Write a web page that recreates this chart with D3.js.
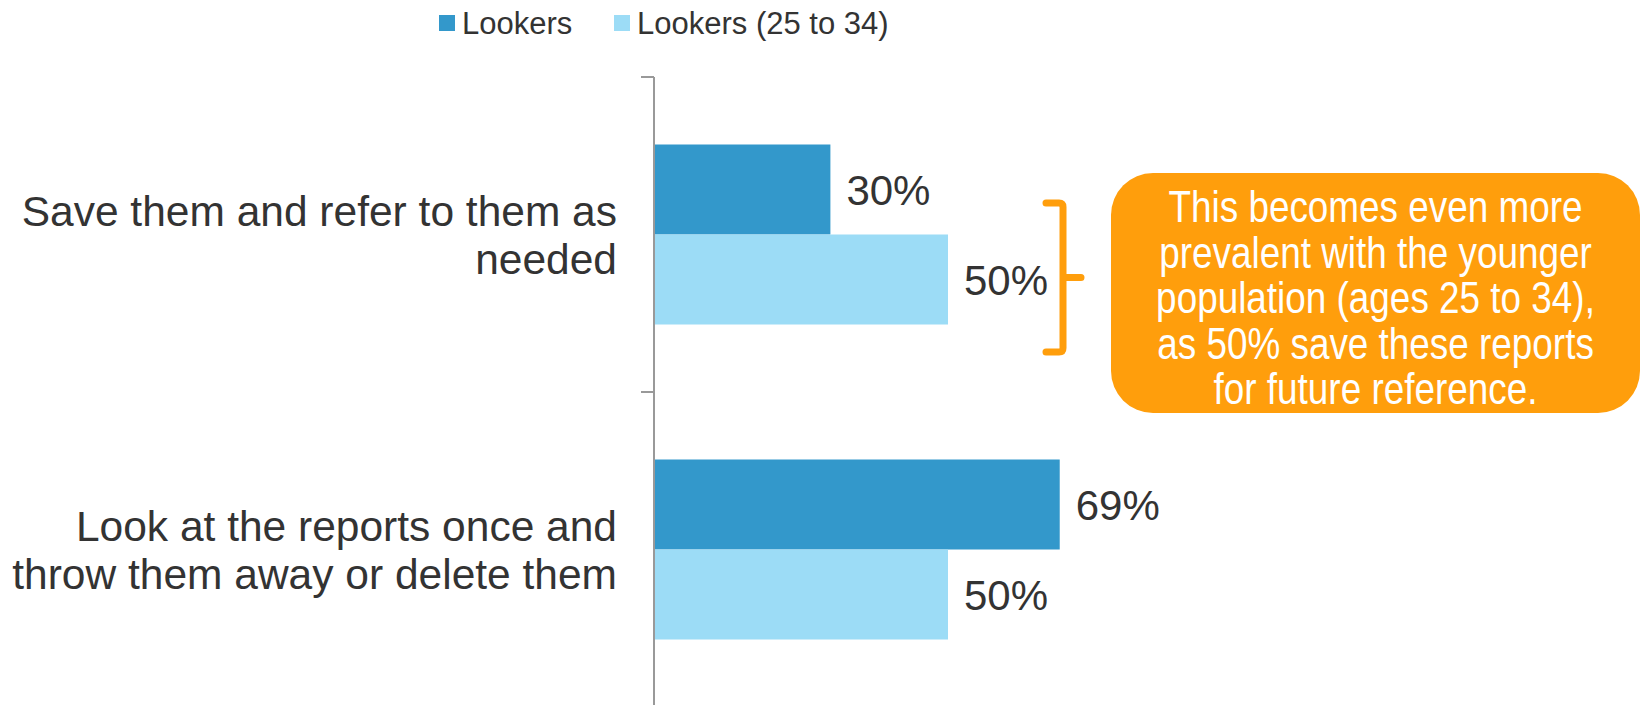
<!DOCTYPE html>
<html>
<head>
<meta charset="utf-8">
<script src="https://cdn.jsdelivr.net/npm/d3@7"></script>
<style>
  body { margin: 0; background: #fff; }
  svg { display: block; font-family: Arial, "Liberation Sans", sans-serif; }
</style>
</head>
<body>
<div id="chart"></div>
<script>
// Data
var categories = ["Save them and refer to them as needed", "Look at the reports once and throw them away or delete them"];
var categoryLines = [["Save them and refer to them as", "needed"], ["Look at the reports once and", "throw them away or delete them"]];
var seriesNames = ["Lookers", "Lookers (25 to 34)"];
var lookers = [30, 69];
var lookersYoung = [50, 50];
var calloutLines = ["This becomes even more", "prevalent with the younger", "population (ages 25 to 34),", "as 50% save these reports", "for future reference."];

var colors = ["#3398cb", "#9cdcf6"];
var textColor = "#333333";
var orange = "#ff9e0c";

var width = 1646, height = 705;
var margin = {top: 77, left: 654};

var svg = d3.select("#chart").append("svg")
    .attr("width", width)
    .attr("height", height);

// Scales
var x = d3.scaleLinear()
    .domain([0, 100])
    .range([margin.left, margin.left + 588]);

var y0 = d3.scaleBand()
    .domain(categories)
    .range([margin.top, margin.top + 630])
    .padding(0);

var y1 = d3.scaleBand()
    .domain(seriesNames)
    .range([0, y0.bandwidth()])
    .paddingInner(0)
    .paddingOuter(0.75);

var rows = [];
categories.forEach(function(c, i) {
    rows.push({cat: c, series: seriesNames[0], value: lookers[i]});
    rows.push({cat: c, series: seriesNames[1], value: lookersYoung[i]});
});

// Bars
svg.selectAll(".bar")
    .data(rows)
    .enter()
    .append("rect")
    .attr("class", "bar")
    .attr("x", x(0))
    .attr("y", d => y0(d.cat) + y1(d.series))
    .attr("width", d => x(d.value) - x(0))
    .attr("height", y1.bandwidth())
    .style("fill", d => colors[seriesNames.indexOf(d.series)]);

// Value labels
svg.selectAll(".valueLabel")
    .data(rows)
    .enter()
    .append("text")
    .attr("class", "valueLabel")
    .attr("x", d => x(d.value) + 16)
    .attr("y", d => y0(d.cat) + y1(d.series) + y1.bandwidth() / 2)
    .attr("dy", "0.36em")
    .style("font-size", "42px")
    .style("fill", textColor)
    .text(d => d.value + "%");

// Axis (category ticks at band edges)
var axisG = svg.append("g")
    .attr("transform", "translate(" + x(0) + ",0)");
axisG.append("line")
    .attr("y1", y0.range()[0])
    .attr("y2", height)
    .style("stroke", "#999")
    .style("stroke-width", 2);
var tickPos = categories.map(c => y0(c));
axisG.selectAll(".tick")
    .data(tickPos)
    .enter()
    .append("line")
    .attr("x1", -13)
    .attr("x2", 0)
    .attr("y1", d => d)
    .attr("y2", d => d)
    .style("stroke", "#999")
    .style("stroke-width", 2);

// Category labels
var catLabels = svg.selectAll(".catLabel")
    .data(categories)
    .enter()
    .append("text")
    .attr("class", "catLabel")
    .attr("text-anchor", "end")
    .style("font-size", "42.5px")
    .style("fill", textColor);
catLabels.each(function(c, i) {
    var lines = categoryLines[i];
    var cy = y0(c) + y0.bandwidth() / 2;
    var lh = 48;
    d3.select(this).selectAll("tspan")
        .data(lines)
        .enter()
        .append("tspan")
        .attr("x", 617)
        .attr("y", (d, j) => cy + (j - (lines.length - 1) / 2) * lh)
        .attr("dy", "0.36em")
        .text(d => d);
});

// Legend
var legendX = [439, 614];
var legend = svg.selectAll(".legend")
    .data(seriesNames)
    .enter()
    .append("g")
    .attr("class", "legend")
    .attr("transform", (d, i) => "translate(" + legendX[i] + ",15)");
legend.append("rect")
    .attr("width", 16)
    .attr("height", 16)
    .style("fill", (d, i) => colors[i]);
legend.append("text")
    .attr("x", 23)
    .attr("y", 8)
    .attr("dy", "0.36em")
    .style("font-size", "31px")
    .style("fill", textColor)
    .text(d => d);

// Bracket
var bTop = 203, bBot = 352, bX = 1063;
var bMid = (bTop + bBot) / 2;
svg.append("path")
    .attr("d", "M1046," + bTop + " L" + (bX - 4) + "," + bTop + " Q" + bX + "," + bTop + " " + bX + "," + (bTop + 4) +
        " L" + bX + "," + (bBot - 4) + " Q" + bX + "," + bBot + " " + (bX - 4) + "," + bBot + " L1046," + bBot +
        " M" + bX + "," + bMid + " L1081," + bMid)
    .style("fill", "none")
    .style("stroke", orange)
    .style("stroke-width", 7)
    .style("stroke-linecap", "round");

// Callout box
var box = {x: 1111, y: 173, w: 529, h: 240};
svg.append("rect")
    .attr("x", box.x)
    .attr("y", box.y)
    .attr("width", box.w)
    .attr("height", box.h)
    .attr("rx", 42)
    .attr("ry", 42)
    .style("fill", orange);

var cx = box.x + box.w / 2;
var callout = svg.append("text")
    .attr("transform", "translate(" + cx + ",0) scale(0.82,1)")
    .attr("text-anchor", "middle")
    .style("font-size", "45px")
    .style("fill", "#fff");
callout.selectAll("tspan")
    .data(calloutLines)
    .enter()
    .append("tspan")
    .attr("x", 0)
    .attr("y", (d, i) => 206 + i * 45.5)
    .attr("dy", "0.36em")
    .text(d => d);
</script>
</body>
</html>
